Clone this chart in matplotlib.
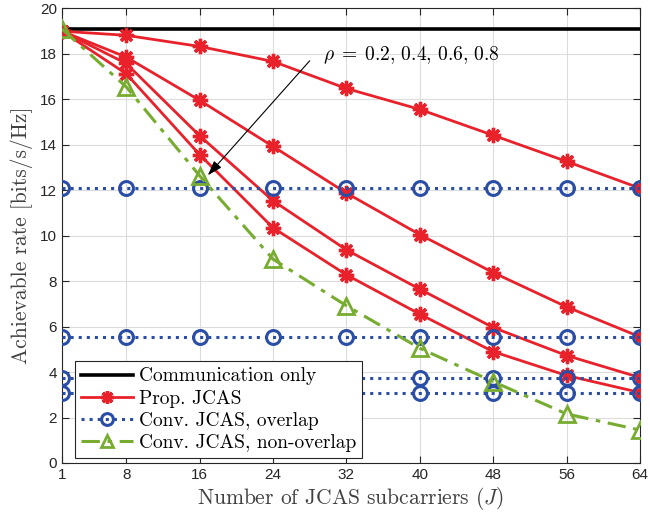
import matplotlib
matplotlib.use("Agg")
import matplotlib.pyplot as plt

plt.rcParams["mathtext.fontset"] = "cm"
plt.rcParams["font.family"] = ["Liberation Sans", "DejaVu Sans"]

# Number of JCAS subcarriers
J = [1, 8, 16, 24, 32, 40, 48, 56, 64]

comm_only = [19.08] * len(J)

# Proposed JCAS, rho = 0.2, 0.4, 0.6, 0.8
prop_rho02 = [19.0, 18.82, 18.33, 17.67, 16.48, 15.56, 14.42, 13.27, 12.09]
prop_rho04 = [19.0, 17.86, 15.96, 13.93, 11.88, 10.05, 8.38, 6.87, 5.55]
prop_rho06 = [19.0, 17.58, 14.40, 11.54, 9.38, 7.65, 5.96, 4.73, 3.76]
prop_rho08 = [19.0, 17.13, 13.57, 10.35, 8.28, 6.55, 4.90, 3.85, 3.10]

# Conventional JCAS with overlapping subcarriers (flat in J)
conv_overlap_levels = [12.09, 5.56, 3.76, 3.10]

# Conventional JCAS, non-overlapping subcarriers
conv_nonoverlap = [19.1, 16.55, 12.64, 8.97, 6.92, 5.05, 3.58, 2.16, 1.45]

RED = "#E8212B"
BLUE = "#2A4DA6"
GREEN = "#77AC30"

fig = plt.figure(figsize=(6.5, 5.18), dpi=100)
ax = fig.add_axes([0.0954, 0.1062, 0.8892, 0.8774])

ax.plot(J, comm_only, color="black", lw=2.6, label="Communication only", zorder=3)

for i, series in enumerate([prop_rho02, prop_rho04, prop_rho06, prop_rho08]):
    ax.plot(J, series, color=RED, lw=2.0, marker=(8, 2, 0), markersize=11,
            markeredgewidth=2.4, label="Prop. JCAS" if i == 0 else None, zorder=4)

for i, level in enumerate(conv_overlap_levels):
    ax.plot(J, [level] * len(J), color=BLUE, lw=2.2, linestyle=":",
            marker="o", markersize=10, markerfacecolor="none", markeredgewidth=2.2,
            label="Conv. JCAS, overlap" if i == 0 else None, zorder=5)

ax.plot(J, conv_nonoverlap, color=GREEN, lw=2.2, linestyle=(0, (6, 2.5, 1.5, 2.5)),
        marker="^", markersize=11, markerfacecolor="none", markeredgewidth=2.0,
        label="Conv. JCAS, non-overlap", zorder=6)

ax.annotate("", xy=(16.9, 12.66), xytext=(28.0, 17.7),
            arrowprops=dict(arrowstyle="-|>,head_length=0.9,head_width=0.3",
                            color="black", lw=0.8, shrinkA=0, shrinkB=0),
            zorder=7)
ax.text(29.5, 17.95, r"$\rho\;=\;0.2,\,0.4,\,0.6,\,0.8$", fontsize=14,
        va="center", ha="left", zorder=7)

ax.set_xlim(1, 64)
ax.set_ylim(0, 20)
ax.set_xticks(J)
ax.set_yticks(range(0, 21, 2))
ax.tick_params(direction="in", top=True, right=True, labelsize=11,
               length=5, width=0.8, colors="#262626")
ax.grid(True, color="#DCDCDC", lw=0.8)
ax.set_axisbelow(True)
for spine in ax.spines.values():
    spine.set_color("#262626")
    spine.set_linewidth(0.8)

ax.set_xlabel(r"Number of JCAS subcarriers $(J)$", fontfamily="cmr10",
              fontsize=15.5, color="#404040", labelpad=2)
ax.set_ylabel("Achievable rate [bits/s/Hz]", fontfamily="cmr10",
              fontsize=15.5, color="#404040", labelpad=5)

leg = ax.legend(loc="lower left", bbox_to_anchor=(0.0225, 0.011),
                prop={"family": "cmr10", "size": 14}, handlelength=2.7,
                fancybox=False, edgecolor="#262626", framealpha=1,
                borderaxespad=0, labelspacing=0.22, borderpad=0.3,
                handletextpad=0.3, markerscale=0.85)
leg.get_frame().set_linewidth(0.8)
leg.set_zorder(10)

fig.savefig("out.png", dpi=100)
